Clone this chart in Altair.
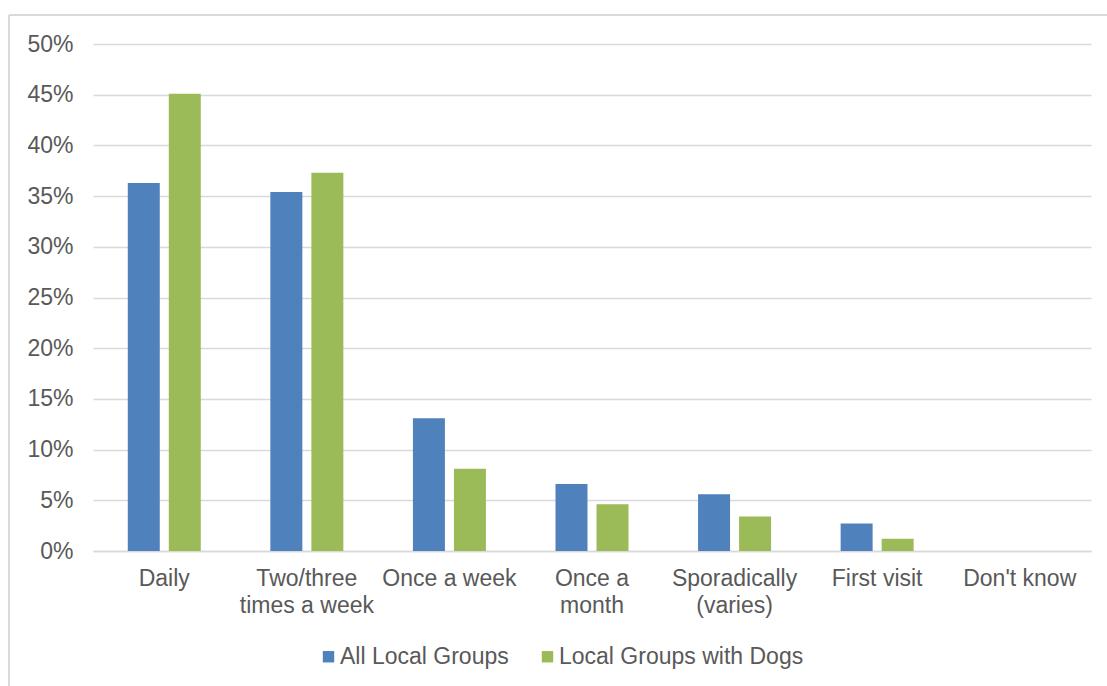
import altair as alt
import pandas as pd

# Visit frequency categories ("|" marks a line break in the axis label)
categories = [
    "Daily",
    "Two/three|times a week",
    "Once a week",
    "Once a|month",
    "Sporadically|(varies)",
    "First visit",
    "Don't know",
]
series_names = ["All Local Groups", "Local Groups with Dogs"]
all_groups = [0.363, 0.354, 0.131, 0.066, 0.056, 0.027, 0.0]
groups_with_dogs = [0.451, 0.373, 0.081, 0.046, 0.034, 0.012, 0.0]
y_ticks = [0, 0.05, 0.10, 0.15, 0.20, 0.25, 0.30, 0.35, 0.40, 0.45, 0.50]
colors = ["#4F81BD", "#9BBB59"]

rows = []
for cat, a, d in zip(categories, all_groups, groups_with_dogs):
    rows.append({"category": cat, "series": series_names[0], "value": a})
    rows.append({"category": cat, "series": series_names[1], "value": d})
df = pd.DataFrame(rows)

FONT = "Liberation Sans"
TEXT = "#595959"
GRID = "#D9D9D9"
FS = 23

W, H = 998, 507
LEFT, TOP = 93, 44

bars = alt.Chart(df).mark_bar().encode(
    x=alt.X(
        "category:N",
        sort=categories,
        title=None,
        scale=alt.Scale(paddingInner=0.488, paddingOuter=0.244),
        axis=alt.Axis(
            labelExpr="split(datum.label, '|')",
            labelAngle=0,
            labelFont=FONT,
            labelFontSize=FS,
            labelColor=TEXT,
            labelLineHeight=27,
            labelPadding=16,
            labelLimit=300,
            ticks=False,
            domainColor=GRID,
            domainWidth=1.5,
            labelBaseline="top",
        ),
    ),
    xOffset=alt.XOffset(
        "series:N", sort=series_names, scale=alt.Scale(paddingInner=0.22)
    ),
    y=alt.Y(
        "value:Q",
        title=None,
        scale=alt.Scale(domain=[0, 0.5]),
        axis=alt.Axis(
            values=y_ticks,
            format=".0%",
            labelFont=FONT,
            labelFontSize=FS,
            labelColor=TEXT,
            labelPadding=20,
            ticks=False,
            domain=False,
            gridColor=GRID,
            gridWidth=1.5,
        ),
    ),
    color=alt.Color(
        "series:N",
        sort=series_names,
        scale=alt.Scale(domain=series_names, range=colors),
        legend=alt.Legend(
            title=None,
            orient="none",
            direction="horizontal",
            legendX=224,
            legendY=601,
            symbolType="square",
            symbolSize=130,
            symbolStrokeWidth=0,
            labelFont=FONT,
            labelFontSize=FS,
            labelColor=TEXT,
            labelOffset=0,
            labelLimit=400,
            columnPadding=27,
        ),
    ),
)

# Light outer frame: left edge and top edge of the chart box
frame_df = pd.DataFrame({"k": [0]})
left_edge = alt.Chart(frame_df).mark_rule(color=GRID, strokeWidth=2, clip=False).encode(
    x=alt.value(9 - LEFT), y=alt.value(15 - TOP), y2=alt.value(686 - TOP)
)
top_edge = alt.Chart(frame_df).mark_rule(color=GRID, strokeWidth=2, clip=False).encode(
    x=alt.value(9 - LEFT), x2=alt.value(1107 - LEFT), y=alt.value(15 - TOP)
)

chart = (
    alt.layer(bars, left_edge, top_edge)
    .properties(
        width=W,
        height=H,
        autosize=alt.AutoSizeParams(type="none"),
        padding={"left": LEFT, "top": TOP, "right": 1107 - LEFT - W, "bottom": 686 - TOP - H},
        background="white",
    )
    .configure_view(stroke=None)
)

chart.save("out.html", embed_options={"renderer": "svg", "actions": False})
